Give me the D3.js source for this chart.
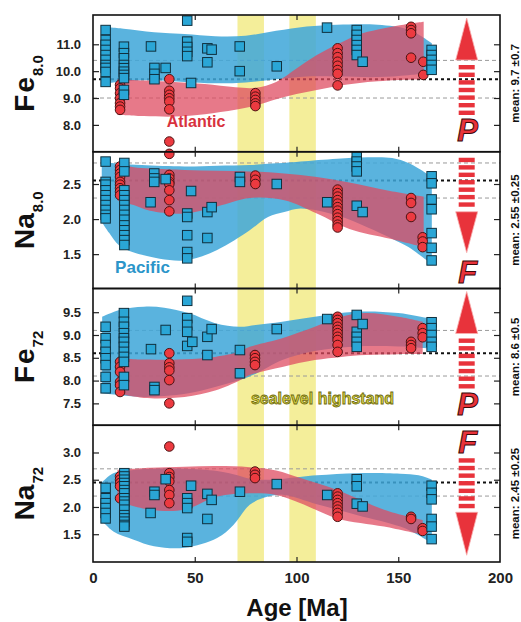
<!DOCTYPE html>
<html><head><meta charset="utf-8">
<script src="https://cdn.jsdelivr.net/npm/d3@7"></script>
<style>body{margin:0;background:#fff}svg{display:block}</style>
</head><body>
<svg id="c" width="521" height="622"></svg>
<script>
// ---------------- DATA ----------------
const panelElem = ["Fe", "Na", "Fe", "Na"];
const panelSub = ["8.0", "8.0", "72", "72"];
const yDomains = [[7.0, 12.09], [1.01, 2.96], [7.02, 10.02], [0.99, 3.5]];
const yTicks = [[8, 9, 10, 11], [1.5, 2.0, 2.5], [7.5, 8.0, 8.5, 9.0, 9.5], [1.5, 2.0, 2.5, 3.0]];
const xTickLabels = [0, 50, 100, 150, 200];
const xTickMarks = [50, 100, 150];
const means = [9.7, 2.55, 8.6, 2.45];
const sds = [0.7, 0.25, 0.5, 0.25];
const meanLabels = ["mean: 9.7 \u00b10.7", "mean: 2.55 \u00b10.25", "mean: 8.6 \u00b10.5", "mean: 2.45 \u00b10.25"];
const arrowDir = ["up", "down", "up", "down"];
const arrowLetter = ["P", "F", "P", "F"];
const highstands = [[71, 84], [96.5, 109.5]];

// points [age, value]
const pacFe80 = [[6.2,11.53],[6.2,11.16],[6.2,10.98],[6.2,10.79],[6.2,10.6],[6.2,10.42],[6.2,10.23],[6.2,10.12],[6.2,9.97],[6.2,9.6],
 [15.2,10.91],[15.2,10.67],[15.2,10.48],[15.2,10.23],[15.2,10.11],[15.2,9.98],[15.2,9.86],[15.2,9.74],[15.2,9.3],[15.2,9.12],
 [28.5,10.92],[30.2,10.12],[30.2,9.9],[30.2,9.7],[35.7,10.12],
 [46.3,11.88],[46.3,11.1],[46.3,10.9],[46.3,10.72],[46.3,10.56],[48.2,9.56],
 [56.2,10.85],[56.2,10.33],[58.3,10.8],[72.1,10.92],[72.1,10.0],
 [90.3,10.18],[115.0,11.62],
 [129.6,11.53],[129.6,11.35],[129.6,11.16],[129.6,10.97],[129.6,10.79],[129.6,10.6],[132.5,10.35],
 [166.4,10.79],[166.4,10.6],[166.4,10.42],[166.4,10.23],[166.4,10.05]];
const atlFe80 = [[13.3,9.49],[13.3,9.36],[13.3,9.18],[13.3,8.99],[13.3,8.81],[13.3,8.68],[13.3,8.56],
 [37.5,9.7],[37.5,9.27],[37.5,9.12],[37.5,8.99],[37.5,8.87],[37.5,8.58],[37.5,7.38],
 [79.8,9.18],[79.8,9.05],[79.8,8.93],[79.8,8.8],[79.8,8.7],
 [120.2,10.85],[120.2,10.67],[120.2,10.52],[120.2,10.35],[120.2,10.2],[120.2,10.04],[120.2,9.9],[120.2,9.47],
 [156.3,11.65],[156.3,11.53],[156.3,11.41],[156.3,10.5],
 [162.3,10.35],[162.3,9.86]];
const pacNa80 = [[6.2,2.82],[6.2,2.53],[6.2,2.49],[6.2,2.41],[6.2,2.34],[6.2,2.27],[6.2,2.2],[6.2,2.13],[6.2,2.06],[6.2,2.01],
 [15.4,2.8],[15.4,2.68],[15.4,2.41],[15.4,2.34],[15.4,2.27],[15.4,2.2],[15.4,2.13],[15.4,2.06],[15.4,1.99],[15.4,1.91],[15.4,1.84],[15.4,1.77],[15.4,1.7],[15.4,1.63],
 [28.3,2.24],[30.1,2.65],[30.1,2.58],[30.1,2.53],[35.7,2.57],
 [46.3,2.08],[46.3,2.03],[46.3,1.77],[46.3,1.53],[46.3,1.44],[48.2,2.4],
 [56.2,2.1],[56.2,1.73],[58.3,2.17],[72.2,2.6],[72.2,2.53],
 [90.3,2.5],[115.1,2.24],[129.6,2.89],[129.6,2.82],[129.6,2.75],[129.6,2.68],[129.6,2.19],[132.5,2.1],
 [166.4,2.61],[166.4,2.51],[166.4,2.28],[166.4,2.14],[166.4,1.8],[166.4,1.59],[166.4,1.41]];
const atlNa80 = [[13.3,2.75],[13.3,2.7],[13.3,2.65],[13.3,2.6],[13.3,2.53],[13.3,2.49],[13.3,2.44],[13.3,2.39],[13.3,2.34],
 [37.5,2.93],[37.5,2.63],[37.5,2.58],[37.5,2.53],[37.5,2.5],[37.5,2.41],[37.5,2.27],[37.5,2.11],
 [79.8,2.62],[79.8,2.56],[79.8,2.5],
 [120.2,2.42],[120.2,2.37],[120.2,2.32],[120.2,2.27],[120.2,2.22],[120.2,2.17],[120.2,2.12],[120.2,2.07],[120.2,2.02],[120.2,1.97],[120.2,1.92],[120.2,1.88],
 [156.3,2.3],[156.3,2.23],[156.3,2.03],
 [162,1.74],[162,1.68],[162,1.6]];
const pacFe72 = [[6.2,9.18],[6.2,8.93],[6.2,8.78],[6.2,8.63],[6.2,8.49],[6.2,8.34],[6.2,8.08],[6.2,7.83],
 [15.2,9.48],[15.2,9.29],[15.2,9.18],[15.2,9.04],[15.2,8.93],[15.2,8.85],[15.2,8.74],[15.2,8.63],[15.2,8.52],[15.2,8.41],[15.2,8.08],[15.2,7.9],
 [28.5,8.69],[30.2,7.86],[30.2,7.79],[35.7,9.11],
 [46.3,9.75],[46.3,9.37],[46.3,9.22],[46.3,9.07],[46.3,8.76],[48.8,8.85],
 [56.2,8.96],[56.2,8.56],[58.3,9.13],[72.2,8.67],[72.2,8.16],
 [90.3,9.13],[115.1,9.35],[129.6,9.44],[129.6,9.07],[129.6,8.96],[129.6,8.85],[129.6,8.74],[132.5,9.24],
 [166.4,9.28],[166.4,9.15],[166.4,9.0],[166.4,8.85],[166.4,8.74]];
const atlFe72 = [[13.3,8.41],[13.3,8.3],[13.3,8.19],[13.3,7.97],[13.3,7.9],[13.3,7.75],
 [37.5,8.6],[37.5,8.38],[37.5,8.29],[37.5,8.22],[37.5,8.01],[37.5,7.5],
 [79.6,8.56],[79.6,8.49],[79.6,8.41],[79.6,8.34],
 [120.2,9.4],[120.2,9.33],[120.2,9.26],[120.2,9.18],[120.2,9.11],[120.2,9.04],[120.2,8.96],[120.2,8.89],[120.2,8.78],[120.2,8.63],
 [156.3,8.85],[156.3,8.78],[156.3,8.71],
 [162,9.15],[162,9.04],[162,8.95]];
const pacNa72 = [[6.2,2.35],[6.2,2.16],[6.2,2.07],[6.2,1.98],[6.2,1.89],[6.2,1.79],
 [15.4,2.62],[15.4,2.56],[15.4,2.5],[15.4,2.44],[15.4,2.38],[15.4,2.31],[15.4,2.25],[15.4,2.16],[15.4,2.1],[15.4,2.04],[15.4,1.95],[15.4,1.85],[15.4,1.79],[15.4,1.73],[15.4,1.67],[15.4,1.64],
 [28.3,1.89],[30.2,2.28],[30.2,2.22],[35.7,2.51],
 [46.3,2.16],[46.3,2.07],[46.3,1.98],[46.3,1.43],[46.3,1.36],[48.2,2.39],
 [56.2,2.24],[56.2,1.78],[58.3,2.13],[72.2,2.28],
 [90.3,2.42],[115.1,2.22],[129.6,2.51],[129.6,2.38],[129.6,2.06],[132.5,2.01],
 [166.4,2.39],[166.4,2.26],[166.4,2.14],[166.4,1.78],[166.4,1.64],[166.4,1.41]];
const atlNa72 = [[13.3,2.56],[13.3,2.5],[13.3,2.44],[13.3,2.38],[13.3,2.16],
 [37.5,3.11],[37.5,2.62],[37.5,2.55],[37.5,2.47],[37.5,2.31],[37.5,2.22],[37.5,2.07],
 [79.6,2.65],[79.6,2.59],[79.6,2.53],
 [120.2,2.25],[120.2,2.19],[120.2,2.13],[120.2,2.07],[120.2,2.01],[120.2,1.95],[120.2,1.89],[120.2,1.82],
 [156.3,1.82],[156.3,1.78],
 [162,1.61],[162,1.56]];

// envelopes [age, low, high]
const pacBandFe80 = [[4.3,9.5,11.65],[15,9.62,11.58],[30,9.66,11.45],[45,9.6,11.38],[60,9.55,11.3],[75,9.58,11.32],[90,9.7,11.5],[105,9.8,11.66],[120,9.8,11.73],[140,9.78,11.73],[155,9.85,11.55],[166.5,9.95,11.04]];
const atlBandFe80 = [[12,8.37,9.7],[25,8.33,9.65],[40,8.31,9.6],[55,8.4,9.52],[70,8.56,9.4],[80,8.72,9.38],[90,8.95,9.6],[100,9.15,10.1],[110,9.3,10.6],[120,9.45,11.0],[130,9.55,11.35],[140,9.62,11.55],[150,9.67,11.7],[162.5,9.7,11.84]];
const pacBandNa80 = [[4.3,1.96,2.8],[8,1.8,2.8],[13,1.62,2.79],[24,1.49,2.77],[45,1.41,2.75],[61,1.56,2.76],[77,1.84,2.77],[86,2.03,2.79],[94,2.1,2.8],[102,2.15,2.82],[120,2.05,2.86],[135,1.88,2.88],[147,1.72,2.87],[155,1.6,2.8],[160,1.5,2.72],[166.5,1.36,2.6]];
const atlBandNa80 = [[12,2.27,2.77],[20,2.2,2.74],[28,2.12,2.72],[45,2.08,2.7],[61,2.18,2.69],[77,2.3,2.68],[94,2.27,2.65],[110,2.08,2.6],[126,1.86,2.52],[146,1.72,2.4],[162.5,1.6,2.32]];
const pacBandFe72 = [[4.5,7.72,9.4],[13,7.68,9.55],[25,7.64,9.62],[35,7.66,9.6],[47,7.72,9.48],[60,7.86,9.26],[72,8.01,9.18],[80,8.15,9.22],[93,8.45,9.29],[109,8.65,9.4],[129,8.75,9.51],[150,8.75,9.48],[166.5,8.7,9.35]];
const atlBandFe72 = [[12,7.72,8.49],[25,7.62,8.46],[45,7.64,8.47],[60,7.78,8.52],[72,8.0,8.63],[77,8.12,8.74],[93,8.3,8.93],[109,8.45,9.18],[122,8.52,9.4],[134,8.56,9.48],[150,8.58,9.4],[162,8.58,9.29]];
const pacBandNa72 = [[4.3,1.75,2.45],[10,1.55,2.62],[20,1.4,2.68],[30,1.28,2.7],[45,1.25,2.7],[61,1.43,2.66],[69,1.67,2.6],[77,2.04,2.52],[86,2.19,2.5],[94,2.22,2.52],[110,2.05,2.58],[130,1.85,2.62],[151,1.64,2.61],[160,1.48,2.58],[166.5,1.33,2.5]];
const atlBandNa72 = [[12,2.1,2.68],[28,1.95,2.72],[45,1.95,2.74],[61,2.19,2.75],[77,2.25,2.73],[90,2.22,2.67],[102,2.07,2.53],[120,1.79,2.31],[143,1.64,1.95],[162,1.49,1.76]];

const pacPoints = [pacFe80, pacNa80, pacFe72, pacNa72];
const atlPoints = [atlFe80, atlNa80, atlFe72, atlNa72];
const pacBands = [pacBandFe80, pacBandNa80, pacBandFe72, pacBandNa72];
const atlBands = [atlBandFe80, atlBandNa80, atlBandFe72, atlBandNa72];

// ---------------- DRAW ----------------
const FONT = "'Liberation Sans', Arial, Helvetica, sans-serif";
const svg = d3.select("#c").style("font-family", FONT);
const L = 93, R = 500, TOP = 15, PH = 136.75;
const x = d3.scaleLinear().domain([0, 200]).range([L, R]);
const tops = [0, 1, 2, 3].map(i => TOP + i * PH);
const ys = yDomains.map((d, i) => d3.scaleLinear().domain(d).range([tops[i] + PH, tops[i]]));

const C = {
  blueBand: "#3fa6d8", redBand: "#de4a60", blue: "#2aa6d6", red: "#ec3a40",
  yellow: "#f4ee9a", arrow: "#e8333b"
};

const defs = svg.append("defs");
tops.forEach((t, i) => {
  defs.append("clipPath").attr("id", "clip" + i)
    .append("rect").attr("x", L).attr("y", t).attr("width", R - L).attr("height", PH);
});

const layerYellow = svg.append("g");
const layerLines = svg.append("g");
const layerBands = svg.append("g");
const layerPts = svg.append("g");
const layerArrows = svg.append("g");
const layerFrame = svg.append("g");

// sea level highstand bands (underneath the envelopes)
highstands.forEach(h => {
  layerYellow.append("rect").attr("x", x(h[0])).attr("y", TOP).attr("width", x(h[1]) - x(h[0]))
    .attr("height", PH * 4).attr("fill", C.yellow);
});

tops.forEach((t, i) => {
  const y = ys[i];
  // reference lines
  const gl = layerLines.append("g");
  [means[i] - sds[i], means[i] + sds[i]].forEach(v => {
    gl.append("line").attr("x1", L).attr("x2", R).attr("y1", y(v)).attr("y2", y(v))
      .attr("stroke", "#9a9a9a").attr("stroke-width", 1).attr("stroke-dasharray", "4,3");
  });
  gl.append("line").attr("x1", L).attr("x2", R).attr("y1", y(means[i])).attr("y2", y(means[i]))
    .attr("stroke", "#111").attr("stroke-width", 2).attr("stroke-dasharray", "3,3");

  // bands
  const area = d3.area().x(d => x(d[0])).y0(d => y(d[1])).y1(d => y(d[2]))
    .curve(d3.curveCatmullRom.alpha(0.5));
  const gb = layerBands.append("g").attr("clip-path", `url(#clip${i})`);
  gb.append("path").attr("d", area(pacBands[i])).attr("fill", C.blueBand).attr("opacity", 0.86);
  gb.append("path").attr("d", area(atlBands[i])).attr("fill", C.redBand).attr("opacity", 0.74);

  // points
  const gp = layerPts.append("g");
  gp.selectAll("circle").data(atlPoints[i]).join("circle")
    .attr("cx", d => x(d[0])).attr("cy", d => y(d[1])).attr("r", 4.8)
    .attr("fill", C.red).attr("stroke", "#4a1212").attr("stroke-width", 1);
  const s = 9.5;
  gp.selectAll("rect").data(pacPoints[i]).join("rect")
    .attr("x", d => x(d[0]) - s / 2).attr("y", d => y(d[1]) - s / 2).attr("width", s).attr("height", s)
    .attr("fill", C.blue).attr("stroke", "#10303e").attr("stroke-width", 1);

  // arrows
  const ga = layerArrows.append("g");
  const cx = 466.7;
  let head, bars, letterY;
  if (arrowDir[i] === "up") { head = [3, 45]; bars = [50, 100]; letterY = 126; }
  else if (i === 1) { bars = [6, 55]; head = [101, 60]; letterY = 131; }
  else { letterY = 28; bars = [33, 83]; head = [130, 87]; }
  ga.append("path")
    .attr("d", `M${cx},${t + head[0]} L${cx + 11},${t + head[1]} L${cx - 11},${t + head[1]} Z`)
    .attr("fill", C.arrow).attr("stroke", "#f7b0b0").attr("stroke-width", 0.8);
  const nb = 7, bh = 4.4, step = (bars[1] - bars[0] - bh) / (nb - 1);
  d3.range(nb).forEach(k => {
    ga.append("rect").attr("x", cx - 8).attr("y", t + bars[0] + k * step).attr("width", 16).attr("height", bh)
      .attr("fill", C.arrow);
  });
  ga.append("text").attr("x", cx + 1).attr("y", t + letterY).attr("text-anchor", "middle")
    .attr("font-size", 31).attr("font-weight", "bold").attr("font-style", "italic")
    .attr("fill", C.arrow).attr("stroke", "#3a0808").attr("stroke-width", 1)
    .text(arrowLetter[i]);

  // frame & axes
  const gf = layerFrame.append("g");
  gf.append("g").attr("transform", `translate(${L},0)`)
    .call(d3.axisLeft(y).tickValues(yTicks[i]).tickSize(-6).tickPadding(12).tickFormat(d3.format(".1f")))
    .call(g => g.select(".domain").remove())
    .call(g => g.selectAll("text").attr("font-size", 13).attr("font-weight", "bold").attr("fill", "#222").style("font-family", FONT))
    .call(g => g.selectAll("line").attr("stroke", "#222").attr("stroke-width", 1.2));
  gf.append("g").attr("transform", `translate(${R},0)`)
    .call(d3.axisRight(y).tickValues(yTicks[i]).tickSize(-6).tickFormat(""))
    .call(g => g.select(".domain").remove())
    .call(g => g.selectAll("line").attr("stroke", "#222").attr("stroke-width", 1.2));
  gf.append("g").attr("transform", `translate(0,${t})`)
    .call(d3.axisTop(x).tickValues(xTickMarks).tickSize(-5).tickFormat(""))
    .call(g => g.select(".domain").remove())
    .call(g => g.selectAll("line").attr("stroke", "#222").attr("stroke-width", 1.2));
  gf.append("g").attr("transform", `translate(0,${t + PH})`)
    .call(d3.axisBottom(x).tickValues(xTickMarks).tickSize(-5).tickFormat(""))
    .call(g => g.select(".domain").remove())
    .call(g => g.selectAll("line").attr("stroke", "#222").attr("stroke-width", 1.2));
  gf.append("rect").attr("x", L).attr("y", t).attr("width", R - L).attr("height", PH)
    .attr("fill", "none").attr("stroke", "#111").attr("stroke-width", 1.6);

  // y title
  const cy = t + PH / 2;
  const tt = gf.append("text").attr("transform", `translate(34,${cy}) rotate(-90)`)
    .attr("text-anchor", "middle").attr("font-weight", "bold").attr("fill", "#111");
  tt.append("tspan").attr("font-size", 28).attr("letter-spacing", panelElem[i] === "Fe" ? 2 : 0).text(panelElem[i]);
  tt.append("tspan").attr("font-size", 15).attr("dy", 9).attr("dx", panelElem[i] === "Fe" ? -1 : 1).text(panelSub[i]);

  // mean label
  gf.append("text").attr("transform", `translate(514.5,${cy}) rotate(-90)`)
    .attr("text-anchor", "middle").attr("dy", "0.35em").attr("font-size", 11.5).attr("font-weight", "bold")
    .attr("fill", "#111").text(meanLabels[i]);
});

// annotations
layerPts.append("text").attr("x", 196).attr("y", ys[0](7.92)).attr("text-anchor", "middle")
  .attr("font-size", 16).attr("font-weight", "bold").attr("fill", "#d8323e").text("Atlantic");
layerPts.append("text").attr("x", 142.5).attr("y", ys[1](1.23)).attr("text-anchor", "middle")
  .attr("font-size", 17).attr("font-weight", "bold").attr("fill", "#2b95c9").text("Pacific");
layerPts.append("text").attr("x", 322.5).attr("y", ys[2](7.48)).attr("text-anchor", "middle")
  .attr("font-size", 16).attr("font-weight", "bold").attr("fill", "#d9d443")
  .attr("stroke", "#6e6a12").attr("stroke-width", 0.8).text("sealevel highstand");

// bottom x labels
layerFrame.append("g").attr("transform", `translate(0,${tops[3] + PH})`)
  .call(d3.axisBottom(x).tickValues(xTickLabels).tickSize(0).tickPadding(10).tickFormat(d3.format("d")))
  .call(g => g.select(".domain").remove())
  .call(g => g.selectAll("text").attr("font-size", 15).attr("font-weight", "bold").attr("fill", "#222").style("font-family", FONT));
layerFrame.append("text").attr("x", 297).attr("y", 616).attr("text-anchor", "middle")
  .attr("font-size", 24).attr("font-weight", "bold").attr("fill", "#111").text("Age [Ma]");
</script>
</body></html>
